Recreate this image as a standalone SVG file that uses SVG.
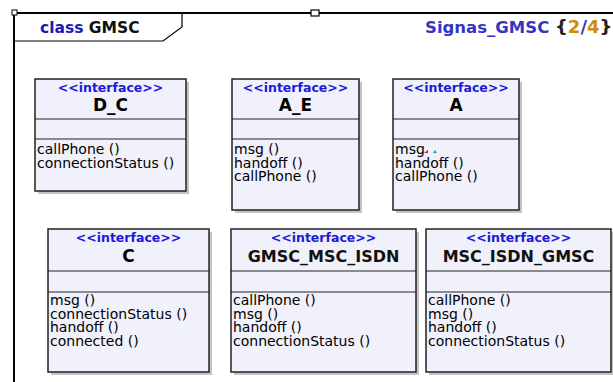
<svg xmlns="http://www.w3.org/2000/svg" width="613" height="382" viewBox="0 0 613 382">
<defs>
<style>
.box{fill:#f1f1fb;stroke:#222;stroke-width:1.5}
.shadow{fill:#c4c4c4}
.div{stroke:#222;stroke-width:1.2}
.st{font-family:"DejaVu Sans",Verdana,sans-serif;font-size:12.5px;font-weight:bold;fill:#1a1ad8;text-anchor:middle}
.nm{font-family:"DejaVu Sans",Verdana,sans-serif;font-size:17px;font-weight:bold;fill:#000;text-anchor:middle}
.nm2{font-family:"DejaVu Sans",Verdana,sans-serif;font-size:16px;font-weight:bold;fill:#111;text-anchor:middle}
.op{font-family:"DejaVu Sans",Verdana,sans-serif;font-size:14px;fill:#000}
.frame{fill:none;stroke:#000;stroke-width:2}
</style>
</defs>
<rect width="613" height="382" fill="#fff"/>
<g id="frame">
<path class="frame" d="M14,382 V13 H613"/>
<path d="M14,41 H163 L182,27 V13" fill="none" stroke="#000" stroke-width="1.2"/>
<rect x="12" y="10" width="5" height="5" fill="#fff" stroke="#000" stroke-width="1"/>
<rect x="311" y="10" width="8" height="6" fill="#fff" stroke="#000" stroke-width="1.2"/>
<text x="40" y="33" font-family="DejaVu Sans,Verdana,sans-serif" font-size="15.5" font-weight="bold"><tspan fill="#1a1ab8">class</tspan><tspan fill="#111"> GMSC</tspan></text>
<text x="425" y="33" font-family="DejaVu Sans,Verdana,sans-serif" font-size="16.5" font-weight="bold" fill="#3535c0">Signas_GMSC <tspan font-size="18" fill="#222">{</tspan><tspan font-size="18" fill="#cc8c10">2</tspan><tspan font-size="18" fill="#3535c0">/</tspan><tspan font-size="18" fill="#cc8c10">4</tspan><tspan font-size="18" fill="#222">}</tspan></text>
</g>
<g id="D_C">
<rect class="shadow" x="38" y="82" width="151" height="112"/>
<rect class="box" x="35" y="79" width="151" height="112"/>
<line class="div" x1="35" y1="119" x2="186" y2="119"/>
<line class="div" x1="35" y1="139" x2="186" y2="139"/>
<text class="st" x="110.5" y="92">&lt;&lt;interface&gt;&gt;</text>
<text class="nm" x="110.5" y="111">D_C</text>
<text class="op" x="37" y="154">callPhone ()</text>
<text class="op" x="37" y="167.5">connectionStatus ()</text>
</g>
<g id="A_E">
<rect class="shadow" x="235" y="82" width="127" height="131"/>
<rect class="box" x="232" y="79" width="127" height="131"/>
<line class="div" x1="232" y1="119" x2="359" y2="119"/>
<line class="div" x1="232" y1="139" x2="359" y2="139"/>
<text class="st" x="295.5" y="92">&lt;&lt;interface&gt;&gt;</text>
<text class="nm" x="295.5" y="111">A_E</text>
<text class="op" x="234" y="154">msg ()</text>
<text class="op" x="234" y="167.5">handoff ()</text>
<text class="op" x="234" y="181">callPhone ()</text>
</g>
<g id="A">
<rect class="shadow" x="396" y="82" width="126" height="131"/>
<rect class="box" x="393" y="79" width="126" height="131"/>
<line class="div" x1="393" y1="119" x2="519" y2="119"/>
<line class="div" x1="393" y1="139" x2="519" y2="139"/>
<text class="st" x="456" y="92">&lt;&lt;interface&gt;&gt;</text>
<text class="nm" x="456" y="111">A</text>
<text class="op" x="395" y="154" fill="#7a7a7a">msg</text>
<path d="M424,153 l4,-3 v3 z" fill="#c0203a"/>
<path d="M433,153 l2,-3 l2,3 z" fill="#1aa0c0"/>
<text class="op" x="395" y="167.5">handoff ()</text>
<text class="op" x="395" y="181">callPhone ()</text>
</g>
<g id="C">
<rect class="shadow" x="51" y="232" width="161" height="143"/>
<rect class="box" x="48" y="229" width="161" height="143"/>
<line class="div" x1="48" y1="271" x2="209" y2="271"/>
<line class="div" x1="48" y1="292" x2="209" y2="292"/>
<text class="st" x="128.5" y="242">&lt;&lt;interface&gt;&gt;</text>
<text class="nm" x="128.5" y="262">C</text>
<text class="op" x="50" y="305">msg ()</text>
<text class="op" x="50" y="318.5">connectionStatus ()</text>
<text class="op" x="50" y="332">handoff ()</text>
<text class="op" x="50" y="345.5">connected ()</text>
</g>
<g id="GMSC_MSC_ISDN">
<rect class="shadow" x="234" y="232" width="185" height="143"/>
<rect class="box" x="231" y="229" width="185" height="143"/>
<line class="div" x1="231" y1="271" x2="416" y2="271"/>
<line class="div" x1="231" y1="292" x2="416" y2="292"/>
<text class="st" x="323.5" y="242">&lt;&lt;interface&gt;&gt;</text>
<text class="nm2" x="323.5" y="262">GMSC_MSC_ISDN</text>
<text class="op" x="233" y="305">callPhone ()</text>
<text class="op" x="233" y="318.5">msg ()</text>
<text class="op" x="233" y="332">handoff ()</text>
<text class="op" x="233" y="345.5">connectionStatus ()</text>
</g>
<g id="MSC_ISDN_GMSC">
<rect class="shadow" x="429" y="232" width="185" height="143"/>
<rect class="box" x="426" y="229" width="185" height="143"/>
<line class="div" x1="426" y1="271" x2="611" y2="271"/>
<line class="div" x1="426" y1="292" x2="611" y2="292"/>
<text class="st" x="518.5" y="242">&lt;&lt;interface&gt;&gt;</text>
<text class="nm2" x="518.5" y="262">MSC_ISDN_GMSC</text>
<text class="op" x="428" y="305">callPhone ()</text>
<text class="op" x="428" y="318.5">msg ()</text>
<text class="op" x="428" y="332">handoff ()</text>
<text class="op" x="428" y="345.5">connectionStatus ()</text>
</g>
<g id="connectors"></g>
</svg>
